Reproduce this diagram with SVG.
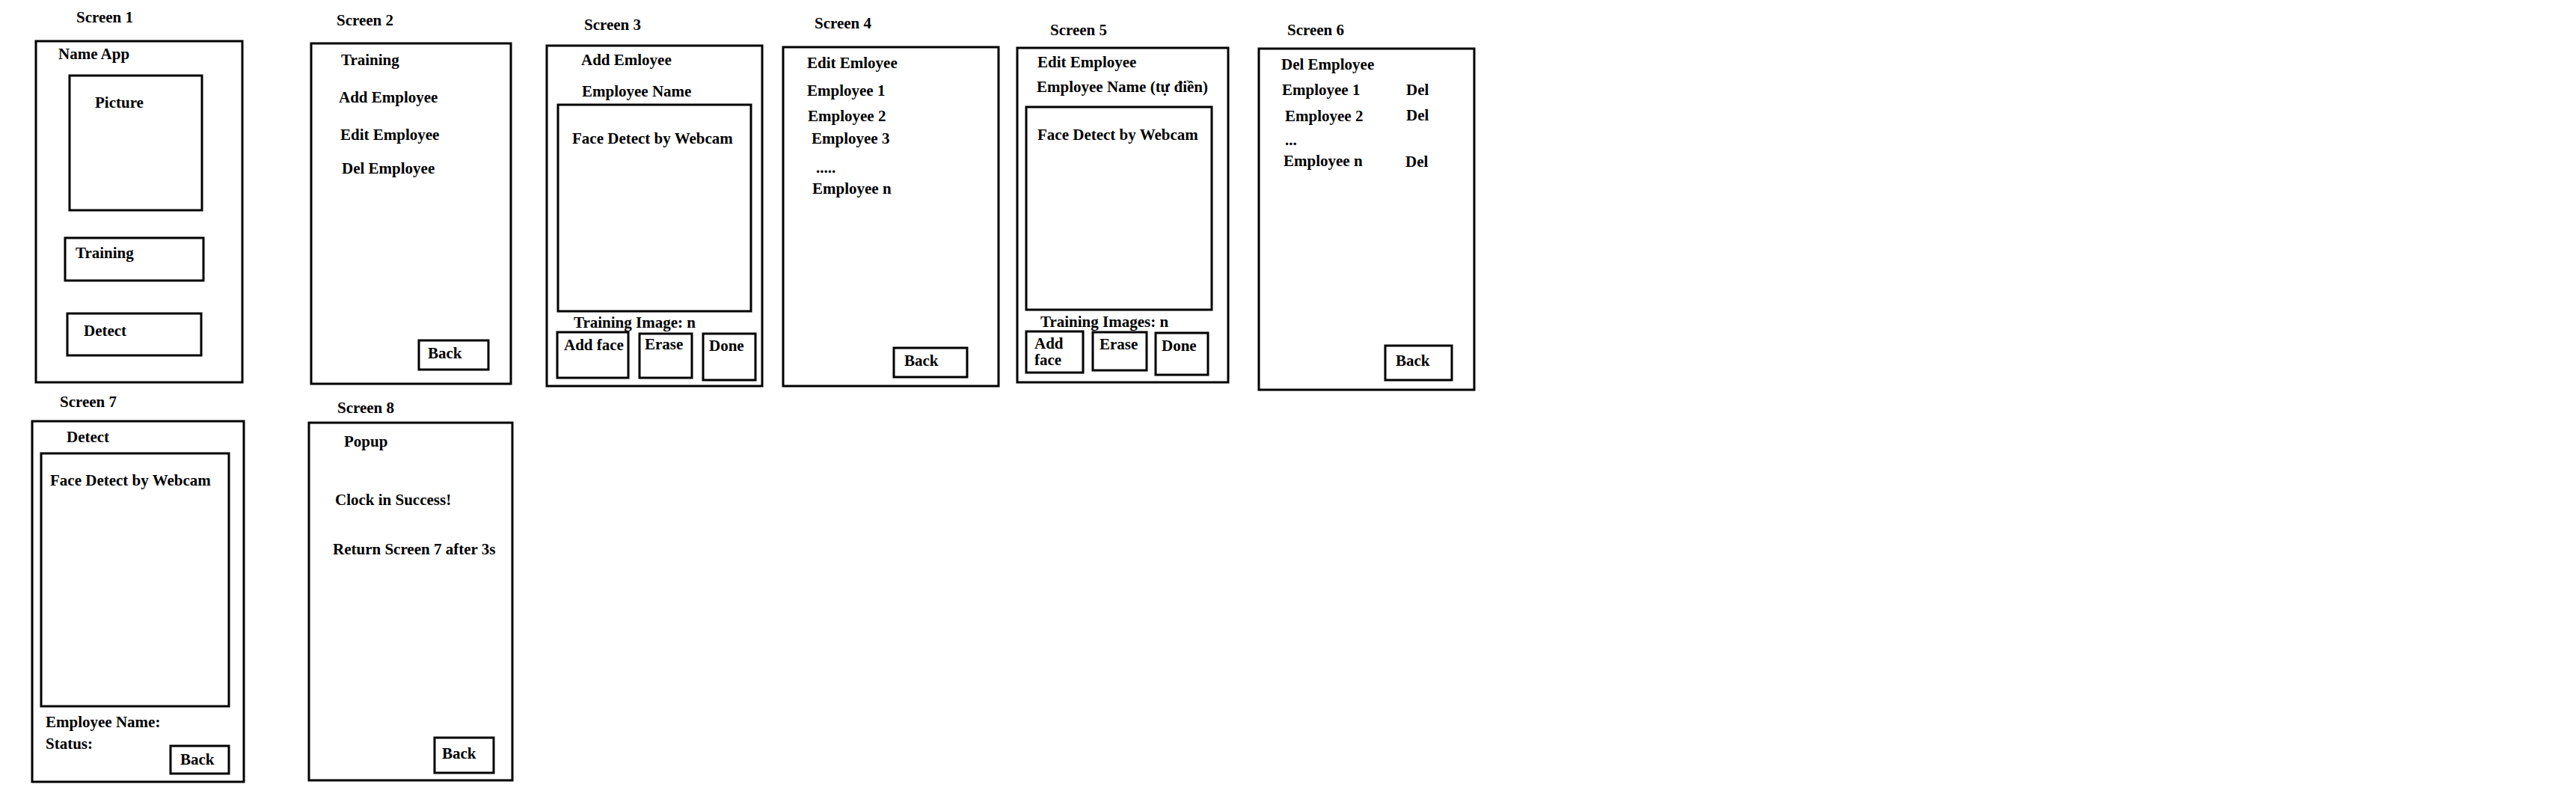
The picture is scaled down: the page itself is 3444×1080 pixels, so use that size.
<svg xmlns="http://www.w3.org/2000/svg" width="3444" height="1080" viewBox="0 0 3444 1080">
<style>
.f{fill:none;stroke:#000;stroke-width:3}
text{font-family:"Liberation Serif","Times New Roman",serif;font-weight:bold;font-size:21px;fill:#000}
</style>
<rect x="0" y="0" width="3444" height="1080" fill="#fff"/>
<g id="screen1">
<text x="102" y="30">Screen 1</text>
<rect class="f" x="48" y="55" width="276" height="456"/>
<text x="78" y="79">Name App</text>
<rect class="f" x="93" y="101" width="177" height="180"/>
<text x="127" y="144">Picture</text>
<rect class="f" x="87" y="318" width="185" height="57"/>
<text x="101" y="345">Training</text>
<rect class="f" x="90" y="419" width="179" height="56"/>
<text x="112" y="449">Detect</text>
</g>
<g id="screen2">
<text x="450" y="34">Screen 2</text>
<rect class="f" x="416" y="58" width="267" height="455"/>
<text x="456" y="87">Training</text>
<text x="453" y="137">Add Employee</text>
<text x="455" y="187">Edit Employee</text>
<text x="457" y="232">Del Employee</text>
<rect class="f" x="560" y="455" width="93" height="39"/>
<text x="572" y="479">Back</text>
</g>
<g id="screen3">
<text x="781" y="40">Screen 3</text>
<rect class="f" x="731" y="61" width="288" height="455"/>
<text x="777" y="87">Add Emloyee</text>
<text x="778" y="129">Employee Name</text>
<rect class="f" x="746" y="140" width="258" height="276"/>
<text x="765" y="192">Face Detect by Webcam</text>
<text x="767" y="438">Training Image: n</text>
<rect class="f" x="745" y="444" width="95" height="61"/>
<text x="754" y="468">Add face</text>
<rect class="f" x="855" y="446" width="70" height="59"/>
<text x="862" y="467">Erase</text>
<rect class="f" x="940" y="446" width="70" height="62"/>
<text x="948" y="469">Done</text>
</g>
<g id="screen4">
<text x="1089" y="38">Screen 4</text>
<rect class="f" x="1047" y="63" width="288" height="453"/>
<text x="1079" y="91">Edit Emloyee</text>
<text x="1079" y="128">Employee 1</text>
<text x="1080" y="162">Employee 2</text>
<text x="1085" y="192">Employee 3</text>
<text x="1091" y="231">.....</text>
<text x="1086" y="259">Employee n</text>
<rect class="f" x="1195" y="465" width="98" height="39"/>
<text x="1209" y="489">Back</text>
</g>
<g id="screen5">
<text x="1404" y="47">Screen 5</text>
<rect class="f" x="1360" y="64" width="282" height="447"/>
<text x="1387" y="90">Edit Employee</text>
<text x="1386" y="123">Employee Name (tự điền)</text>
<rect class="f" x="1372" y="143" width="248" height="271"/>
<text x="1387" y="187">Face Detect by Webcam</text>
<text x="1391" y="437">Training Images: n</text>
<rect class="f" x="1372" y="443" width="76" height="55"/>
<text x="1383" y="466">Add</text>
<text x="1383" y="488">face</text>
<rect class="f" x="1461" y="444" width="72" height="51"/>
<text x="1470" y="467">Erase</text>
<rect class="f" x="1545" y="445" width="70" height="56"/>
<text x="1553" y="469">Done</text>
</g>
<g id="screen6">
<text x="1721" y="47">Screen 6</text>
<rect class="f" x="1683" y="65" width="288" height="456"/>
<text x="1713" y="93">Del Employee</text>
<text x="1714" y="127">Employee 1</text>
<text x="1880" y="127">Del</text>
<text x="1718" y="162">Employee 2</text>
<text x="1880" y="161">Del</text>
<text x="1718" y="194">...</text>
<text x="1716" y="222">Employee n</text>
<text x="1879" y="223">Del</text>
<rect class="f" x="1852" y="462" width="89" height="46"/>
<text x="1866" y="489">Back</text>
</g>
<g id="screen7">
<text x="80" y="544">Screen 7</text>
<rect class="f" x="43" y="563" width="283" height="482"/>
<text x="89" y="591">Detect</text>
<rect class="f" x="55" y="606" width="251" height="338"/>
<text x="67" y="649">Face Detect by Webcam</text>
<text x="61" y="972">Employee Name:</text>
<text x="61" y="1001">Status:</text>
<rect class="f" x="228" y="997" width="78" height="37"/>
<text x="241" y="1022">Back</text>
</g>
<g id="screen8">
<text x="451" y="552">Screen 8</text>
<rect class="f" x="413" y="565" width="272" height="478"/>
<text x="460" y="597">Popup</text>
<text x="448" y="675">Clock in Success!</text>
<text x="445" y="741">Return Screen 7 after 3s</text>
<rect class="f" x="581" y="986" width="79" height="47"/>
<text x="591" y="1014">Back</text>
</g>
<g id="connectors"></g>
</svg>
